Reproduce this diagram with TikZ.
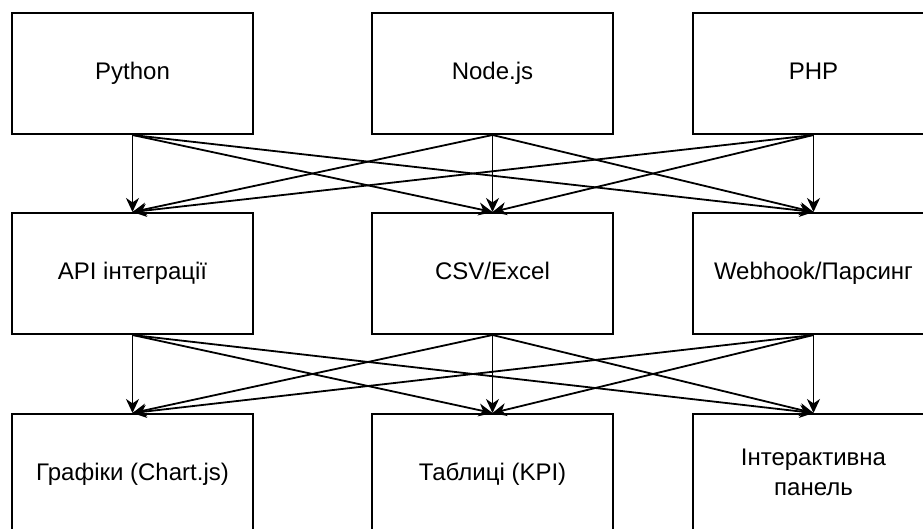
\documentclass[tikz,border=0pt]{standalone}
\usepackage{fontspec}
\setmainfont{Liberation Sans}
\usetikzlibrary{arrows.meta}
\begin{document}
\begin{tikzpicture}[x=0.5pt,y=-0.5pt,>={Stealth[length=7pt,width=6.5pt,inset=2.2pt]},
  box/.style={draw,line width=1pt,minimum width=120.5pt,minimum height=60.5pt,align=center,
    text height=8.6pt,text depth=2.4pt,font=\fontsize{12}{15}\selectfont},
  link/.style={->,line width=0.9pt}]
\useasboundingbox(0,0)rectangle(923,529);
\clip(0,0)rectangle(923,529);
% sources
\node[box](py)at(132.5,73.5){Python};
\node[box](nd)at(492.5,73.5){Node.js};
\node[box](php)at(813.5,73.5){PHP};
% data ways
\node[box](api)at(132.5,273.5){API інтеграції};
\node[box](csv)at(492.5,273.5){CSV/Excel};
\node[box](hook)at(813.5,273.5){Webhook/Парсинг};
% output
\node[box](chart)at(132.5,474.5){Графіки (Chart.js)};
\node[box](kpi)at(492.5,474.5){Таблиці (KPI)};
\node[box,text height=23.6pt](panel)at(813.5,474.5){Інтерактивна\\панель};
\foreach \a in {py,nd,php}\foreach \b in {api,csv,hook}\draw[link](\a.south)--(\b.north);
\foreach \a in {api,csv,hook}\foreach \b in {chart,kpi,panel}\draw[link](\a.south)--(\b.north);
\end{tikzpicture}
\end{document}
